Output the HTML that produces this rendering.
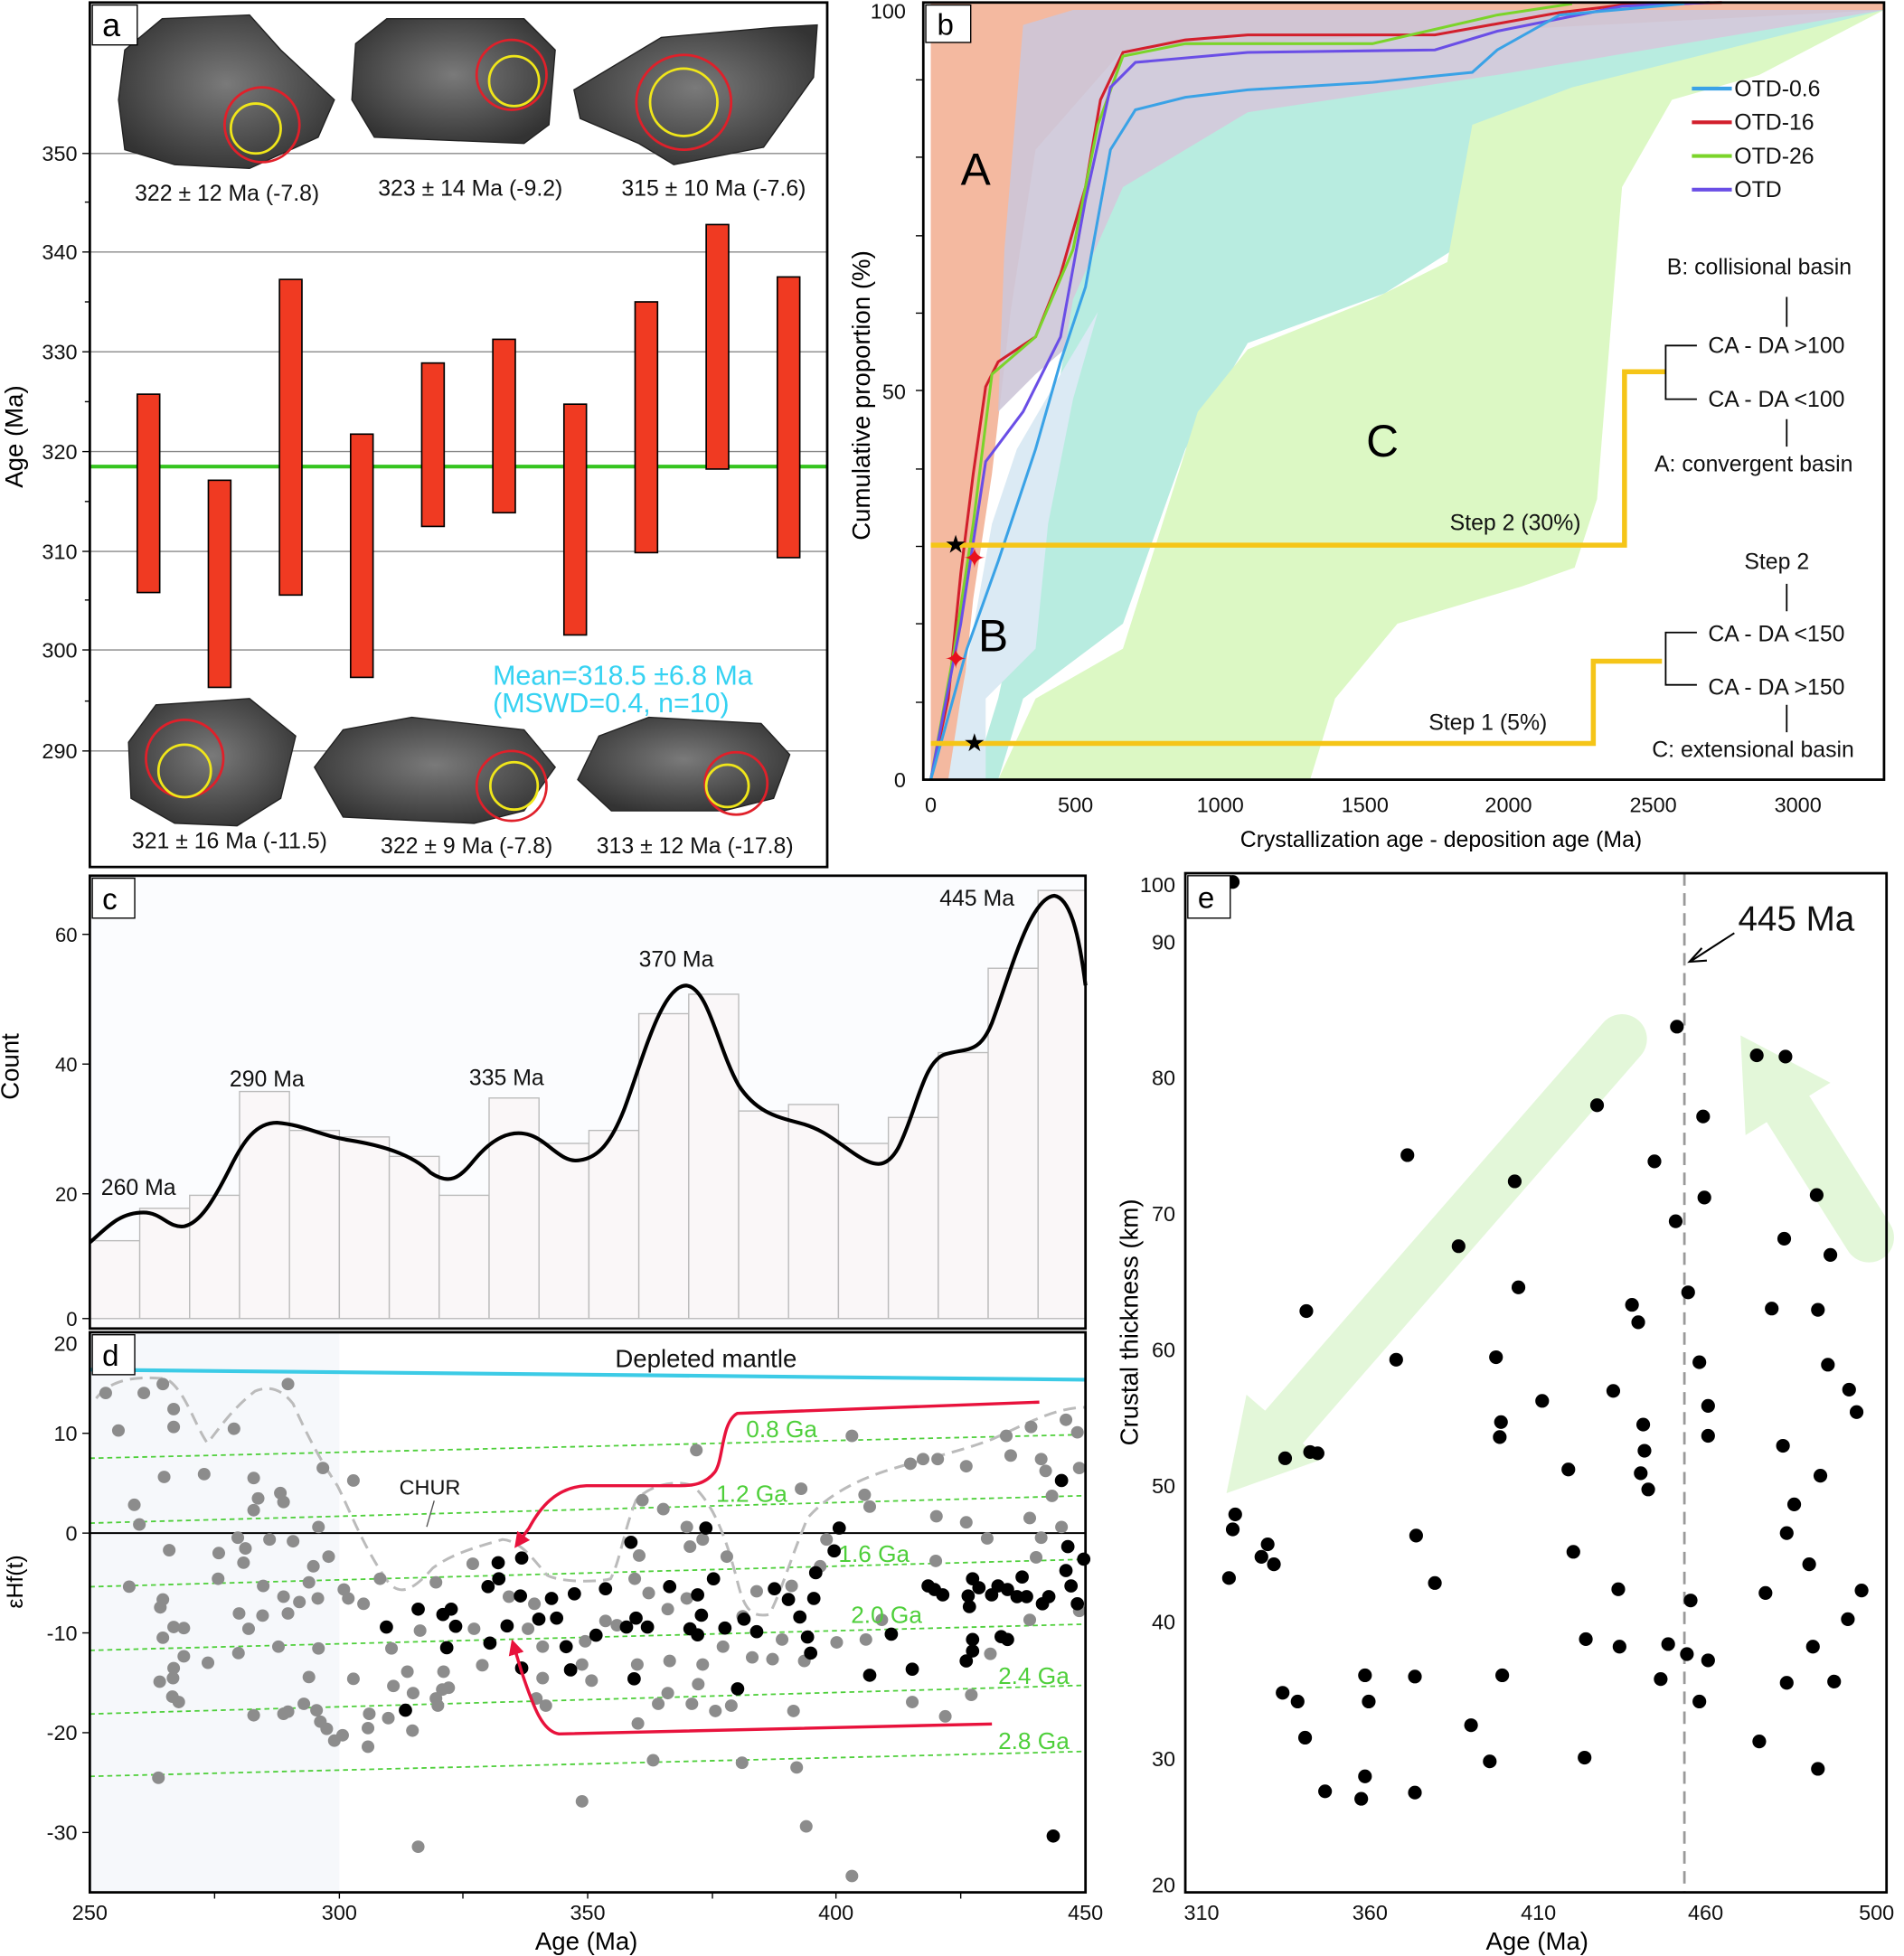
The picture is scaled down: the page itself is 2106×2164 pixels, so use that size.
<!DOCTYPE html>
<html><head><meta charset="utf-8"><style>
html,body{margin:0;padding:0;background:#fff}
svg{display:block}
text{font-family:"Liberation Sans",Arial,sans-serif}
</style></head><body>
<svg xmlns="http://www.w3.org/2000/svg" width="2106" height="2164" viewBox="0 0 1526 1568">
<defs>
<radialGradient id="zg" cx="50%" cy="45%" r="60%"><stop offset="0" stop-color="#7a7a7a"/><stop offset="1" stop-color="#333"/></radialGradient>
<marker id="ah" viewBox="0 0 10 10" refX="5" refY="5" markerWidth="5" markerHeight="5" orient="auto"><path d="M0,0L10,5L0,10z" fill="#e8123c"/></marker>
</defs>
<rect width="1526" height="1568" fill="#fff"/>

<!-- ===== Panel a ===== -->
<g>
<g stroke="#888" stroke-width="1">
<line x1="72" y1="123" x2="663" y2="123"/><line x1="72" y1="202" x2="663" y2="202"/><line x1="72" y1="282" x2="663" y2="282"/>
<line x1="72" y1="362" x2="663" y2="362"/><line x1="72" y1="442" x2="663" y2="442"/><line x1="72" y1="521" x2="663" y2="521"/><line x1="72" y1="602" x2="663" y2="602"/>
</g>
<line x1="72" y1="374" x2="663" y2="374" stroke="#35c41f" stroke-width="3"/>
<g fill="#f03a22" stroke="#000" stroke-width="1.2">
<rect x="110" y="316" width="18" height="159"/><rect x="167" y="385" width="18" height="166"/><rect x="224" y="224" width="18" height="253"/>
<rect x="281" y="348" width="18" height="195"/><rect x="338" y="291" width="18" height="131"/><rect x="395" y="272" width="18" height="139"/>
<rect x="452" y="324" width="18" height="185"/><rect x="509" y="242" width="18" height="201"/><rect x="566" y="180" width="18" height="196"/><rect x="623" y="222" width="18" height="225"/>
</g>
<g fill="url(#zg)" stroke="#222">
<polygon points="100,40 130,15 200,12 225,40 268,80 255,110 200,135 140,132 100,120 95,80"/>
<polygon points="285,35 310,15 420,15 445,40 440,100 420,115 300,110 282,80"/>
<polygon points="460,72 530,30 620,22 655,20 652,62 612,118 540,132 512,115 465,95"/>
<polygon points="103,595 125,565 200,560 237,590 225,640 190,662 140,660 105,640"/>
<polygon points="252,615 275,585 330,575 420,585 445,615 420,650 380,660 275,655"/>
<polygon points="463,625 480,590 520,575 610,580 633,605 620,640 580,650 490,650"/>
</g>
<g fill="none" stroke-width="2">
<circle cx="210" cy="100" r="30" stroke="#e0202a"/><circle cx="205" cy="103" r="20" stroke="#f0e61a"/>
<circle cx="410" cy="60" r="28" stroke="#e0202a"/><circle cx="412" cy="65" r="20" stroke="#f0e61a"/>
<circle cx="548" cy="82" r="38" stroke="#e0202a"/><circle cx="548" cy="82" r="27" stroke="#f0e61a"/>
<circle cx="148" cy="608" r="31" stroke="#e0202a"/><circle cx="148" cy="618" r="21" stroke="#f0e61a"/>
<circle cx="410" cy="630" r="28" stroke="#e0202a"/><circle cx="412" cy="630" r="19" stroke="#f0e61a"/>
<circle cx="590" cy="628" r="25" stroke="#e0202a"/><circle cx="583" cy="630" r="17" stroke="#f0e61a"/>
</g>
<g font-size="18" fill="#111" text-anchor="middle">
<text x="182" y="161">322 ± 12 Ma (-7.8)</text><text x="377" y="157">323 ± 14 Ma (-9.2)</text><text x="572" y="157">315 ± 10 Ma (-7.6)</text>
<text x="184" y="680">321 ± 16 Ma (-11.5)</text><text x="374" y="684">322 ± 9 Ma (-7.8)</text><text x="557" y="684">313 ± 12 Ma (-17.8)</text>
</g>
<text x="395" y="549" font-size="22" fill="#35d2f2">Mean=318.5 ±6.8 Ma</text>
<text x="395" y="571" font-size="22" fill="#35d2f2">(MSWD=0.4, n=10)</text>
<rect x="72" y="2" width="591" height="693" fill="none" stroke="#000" stroke-width="2"/>
<rect x="74" y="4" width="36" height="32" fill="#fff" stroke="#000"/><text x="82" y="29" font-size="26">a</text>
<g font-size="17" text-anchor="end" fill="#111">
<text x="62" y="129">350</text><text x="62" y="208">340</text><text x="62" y="288">330</text><text x="62" y="368">320</text><text x="62" y="448">310</text><text x="62" y="527">300</text><text x="62" y="608">290</text>
</g>
<g stroke="#000"><line x1="66" y1="123" x2="72" y2="123"/><line x1="66" y1="202" x2="72" y2="202"/><line x1="66" y1="282" x2="72" y2="282"/><line x1="66" y1="362" x2="72" y2="362"/><line x1="66" y1="442" x2="72" y2="442"/><line x1="66" y1="521" x2="72" y2="521"/><line x1="66" y1="602" x2="72" y2="602"/>
<line x1="68" y1="162" x2="72" y2="162"/><line x1="68" y1="242" x2="72" y2="242"/><line x1="68" y1="322" x2="72" y2="322"/><line x1="68" y1="402" x2="72" y2="402"/><line x1="68" y1="481" x2="72" y2="481"/><line x1="68" y1="562" x2="72" y2="562"/></g>
<text transform="translate(18,350) rotate(-90)" font-size="20" text-anchor="middle">Age (Ma)</text>
</g>

<!-- ===== Panel b ===== -->
<g>
<polygon points="746,2 1510,2 1510,8 900,40 830,120 810,250 795,380 780,480 765,625 746,625" fill="#f4b9a0"/>
<polygon points="820,20 860,8 1510,8 1300,60 1150,90 1000,170 900,240 830,300 800,330 805,200" fill="#cdc6d8" opacity="0.9"/>
<polygon points="780,625 800,560 830,420 860,240 900,150 1000,90 1200,60 1510,8 1300,80 1185,100 1165,200 1110,235 1000,275 950,360 900,500 820,560 800,625" fill="#b8ece0"/>
<polygon points="800,625 830,560 900,520 960,330 1000,280 1100,240 1160,210 1180,100 1260,70 1510,8 1410,60 1340,80 1300,150 1292,250 1280,400 1262,455 1220,470 1120,500 1070,560 1050,625" fill="#dcf8c4"/>
<polygon points="760,625 770,560 795,420 815,360 850,300 880,250 860,320 840,420 830,520 790,560 790,625" fill="#dbeaf4"/>
<g fill="none" stroke-width="2.2">
<path d="M746,625 L760,560 L770,460 L780,380 L790,310 L800,290 L830,270 L850,220 L870,150 L882,80 L900,42 L950,32 L1000,28 L1150,28 L1250,10 L1300,4 L1380,2" stroke="#d21f2c"/>
<path d="M746,625 L765,520 L780,420 L795,300 L830,270 L860,200 L880,100 L900,45 L950,35 L1100,35 L1200,12 L1260,3" stroke="#7bd42a"/>
<path d="M746,625 L770,500 L790,370 L820,330 L850,270 L870,160 L890,70 L910,50 L1000,42 L1150,40 L1200,25 L1300,5 L1370,2" stroke="#6a4ee6"/>
<path d="M746,625 L775,520 L800,450 L830,360 L850,290 L870,230 L890,120 L910,88 L950,78 L1000,72 L1100,66 L1180,58 L1200,40 L1250,12 L1350,3" stroke="#3aa2e6"/>
</g>
<g fill="none" stroke="#f5c518" stroke-width="4">
<polyline points="746,437 1302,437 1302,298 1335,298"/><polyline points="746,596 1277,596 1277,530 1332,530"/>
</g>
<g>
<text x="766" y="443" text-anchor="middle" font-size="20">★</text><text x="781" y="602" text-anchor="middle" font-size="20">★</text>
<text x="781" y="455" text-anchor="middle" font-size="22" fill="#e8101c">✦</text><text x="766" y="536" text-anchor="middle" font-size="22" fill="#e8101c">✦</text>
</g>
<g font-size="36" fill="#000"><text x="770" y="148">A</text><text x="784" y="522">B</text><text x="1095" y="366">C</text></g>
<g font-size="18" fill="#111">
<text x="1162" y="425">Step 2 (30%)</text><text x="1145" y="585">Step 1 (5%)</text>
<text x="1336" y="220">B: collisional basin</text><text x="1369" y="283">CA - DA &gt;100</text><text x="1369" y="326">CA - DA &lt;100</text>
<text x="1326" y="378">A: convergent basin</text><text x="1398" y="456">Step 2</text><text x="1369" y="514">CA - DA &lt;150</text>
<text x="1369" y="557">CA - DA &gt;150</text><text x="1324" y="607">C: extensional basin</text>
</g>
<g stroke="#000" stroke-width="1.3" fill="none">
<polyline points="1360,277 1335,277 1335,320 1360,320"/><polyline points="1360,507 1335,507 1335,549 1360,549"/>
<line x1="1432" y1="262" x2="1432" y2="238"/><line x1="1432" y1="336" x2="1432" y2="358"/><line x1="1432" y1="490" x2="1432" y2="468"/><line x1="1432" y1="565" x2="1432" y2="587"/>
</g>
<g font-size="18" fill="#111">
<line x1="1356" y1="71" x2="1388" y2="71" stroke="#3aa2e6" stroke-width="3"/><text x="1390" y="77">OTD-0.6</text>
<line x1="1356" y1="98" x2="1388" y2="98" stroke="#d21f2c" stroke-width="3"/><text x="1390" y="104">OTD-16</text>
<line x1="1356" y1="125" x2="1388" y2="125" stroke="#7bd42a" stroke-width="3"/><text x="1390" y="131">OTD-26</text>
<line x1="1356" y1="152" x2="1388" y2="152" stroke="#6a4ee6" stroke-width="3"/><text x="1390" y="158">OTD</text>
</g>
<rect x="740" y="2" width="770" height="623" fill="none" stroke="#000" stroke-width="2"/>
<rect x="742" y="4" width="36" height="30" fill="#fff" stroke="#000"/><text x="751" y="28" font-size="24">b</text>
<g font-size="17" fill="#111" text-anchor="end"><text x="726" y="15">100</text><text x="726" y="320">50</text><text x="726" y="631">0</text></g>
<g stroke="#000"><line x1="734" y1="64" x2="740" y2="64"/><line x1="734" y1="126" x2="740" y2="126"/><line x1="734" y1="189" x2="740" y2="189"/><line x1="734" y1="251" x2="740" y2="251"/><line x1="734" y1="313" x2="740" y2="313"/><line x1="734" y1="376" x2="740" y2="376"/><line x1="734" y1="438" x2="740" y2="438"/><line x1="734" y1="500" x2="740" y2="500"/><line x1="734" y1="563" x2="740" y2="563"/></g>
<g font-size="17" fill="#111" text-anchor="middle"><text x="746" y="651">0</text><text x="862" y="651">500</text><text x="978" y="651">1000</text><text x="1094" y="651">1500</text><text x="1209" y="651">2000</text><text x="1325" y="651">2500</text><text x="1441" y="651">3000</text></g>
<text x="1155" y="679" font-size="18" text-anchor="middle">Crystallization age - deposition age (Ma)</text>
<text transform="translate(697,317) rotate(-90)" font-size="20" text-anchor="middle">Cumulative proportion (%)</text>
</g>

<!-- ===== Panel c ===== -->
<g>
<rect x="72" y="702" width="798" height="363" fill="#fbfcfe"/>
<g fill="#faf7f8" stroke="#bbb" stroke-width="1">
<rect x="72" y="994.6" width="40" height="62.4"/><rect x="112" y="968.6" width="40" height="88.4"/><rect x="152" y="958.2" width="40" height="98.8"/>
<rect x="192" y="875" width="40" height="182"/><rect x="232" y="906.2" width="40" height="150.8"/><rect x="272" y="911.4" width="40" height="145.6"/>
<rect x="312" y="927" width="40" height="130"/><rect x="352" y="958.2" width="40" height="98.8"/><rect x="392" y="880.2" width="40" height="176.8"/>
<rect x="432" y="916.6" width="40" height="140.4"/><rect x="472" y="906.2" width="40" height="150.8"/><rect x="512" y="812.6" width="40" height="244.4"/>
<rect x="552" y="797" width="40" height="260"/><rect x="592" y="890.6" width="40" height="166.4"/><rect x="632" y="885.4" width="40" height="171.6"/>
<rect x="672" y="916.6" width="40" height="140.4"/><rect x="712" y="895.8" width="40" height="161.2"/><rect x="752" y="843.8" width="40" height="213.2"/>
<rect x="792" y="776.2" width="40" height="280.8"/><rect x="832" y="713.8" width="38" height="343.2"/>
</g>
<path d="M72,996 C85,985 95,972 115,972 C130,972 135,985 148,983 C160,980 170,965 185,935 C195,915 205,900 222,900 C245,902 255,910 280,914 C305,918 330,925 345,940 C360,950 368,945 380,930 C395,912 410,905 425,910 C440,915 450,933 465,930 C480,928 490,915 500,890 C515,850 530,790 550,790 C568,792 575,840 592,870 C605,890 620,895 640,900 C660,905 670,915 685,925 C700,935 710,938 720,920 C735,890 740,850 758,845 C775,840 785,845 795,820 C810,780 825,720 845,718 C858,720 865,750 870,790" fill="none" stroke="#000" stroke-width="3"/>
<g font-size="18" fill="#111"><text x="81" y="958">260 Ma</text><text x="184" y="871">290 Ma</text><text x="376" y="870">335 Ma</text><text x="512" y="775">370 Ma</text><text x="753" y="726">445 Ma</text></g>
<rect x="72" y="702" width="798" height="363" fill="none" stroke="#000" stroke-width="2"/>
<rect x="74" y="704" width="34" height="32" fill="#fff" stroke="#000"/><text x="82" y="729" font-size="24">c</text>
<g font-size="16" fill="#111" text-anchor="end"><text x="62" y="755">60</text><text x="62" y="859">40</text><text x="62" y="963">20</text><text x="62" y="1063">0</text></g>
<g stroke="#000"><line x1="66" y1="749" x2="72" y2="749"/><line x1="66" y1="853" x2="72" y2="853"/><line x1="66" y1="957" x2="72" y2="957"/><line x1="66" y1="1057" x2="72" y2="1057"/></g>
<text transform="translate(15,855) rotate(-90)" font-size="20" text-anchor="middle">Count</text>
</g>

<!-- ===== Panel d ===== -->
<g>
<rect x="72" y="1068" width="798" height="449" fill="#fff"/>
<rect x="72" y="1068" width="200" height="449" fill="#f6f8fb"/>
<line x1="72" y1="1098" x2="870" y2="1106" stroke="#3ccbe6" stroke-width="3"/>
<g stroke="#4ecf3a" stroke-width="1.3" stroke-dasharray="4,3">
<line x1="72" y1="1169" x2="870" y2="1150"/><line x1="72" y1="1221" x2="870" y2="1199"/><line x1="72" y1="1272" x2="870" y2="1250"/>
<line x1="72" y1="1323" x2="870" y2="1302"/><line x1="72" y1="1374" x2="870" y2="1351"/><line x1="72" y1="1424" x2="870" y2="1404"/>
</g>
<line x1="72" y1="1229" x2="870" y2="1229" stroke="#000" stroke-width="1.5"/>
<g transform="translate(72,1068) scale(0.509,0.2864)">
<path d="M10,185 C30,140 60,120 120,130 C150,160 165,260 185,310 C200,280 220,220 260,165 C280,150 300,155 320,200 C340,280 360,350 390,430 C410,500 430,600 470,700 C490,740 510,720 540,660 C570,620 610,600 650,580 C680,585 700,640 720,680 C740,700 800,700 820,690 C835,640 840,560 860,470 C880,430 920,410 950,430 C980,480 1000,560 1020,700 C1030,770 1040,800 1070,790 C1090,720 1100,650 1130,520 C1160,460 1200,420 1250,390 C1300,360 1360,340 1420,300 C1470,260 1520,210 1568,210" fill="none" stroke="#bbb" stroke-width="3" stroke-dasharray="14,8" vector-effect="non-scaling-stroke"/>
<g fill="#8c8c8c">
<ellipse cx="25" cy="170" rx="10" ry="17.5"/><ellipse cx="85" cy="170" rx="10" ry="17.5"/><ellipse cx="115" cy="145" rx="10" ry="17.5"/><ellipse cx="312" cy="145" rx="10" ry="17.5"/><ellipse cx="132" cy="215" rx="10" ry="17.5"/><ellipse cx="45" cy="275" rx="10" ry="17.5"/><ellipse cx="132" cy="265" rx="10" ry="17.5"/><ellipse cx="227" cy="270" rx="10" ry="17.5"/><ellipse cx="180" cy="397" rx="10" ry="17.5"/><ellipse cx="117" cy="405" rx="10" ry="17.5"/><ellipse cx="258" cy="408" rx="10" ry="17.5"/><ellipse cx="367" cy="380" rx="10" ry="17.5"/><ellipse cx="415" cy="415" rx="10" ry="17.5"/><ellipse cx="70" cy="483" rx="10" ry="17.5"/><ellipse cx="265" cy="465" rx="10" ry="17.5"/><ellipse cx="300" cy="450" rx="10" ry="17.5"/><ellipse cx="305" cy="475" rx="10" ry="17.5"/><ellipse cx="258" cy="498" rx="10" ry="17.5"/><ellipse cx="78" cy="538" rx="10" ry="17.5"/><ellipse cx="360" cy="545" rx="10" ry="17.5"/><ellipse cx="233" cy="575" rx="10" ry="17.5"/><ellipse cx="283" cy="580" rx="10" ry="17.5"/><ellipse cx="320" cy="585" rx="10" ry="17.5"/><ellipse cx="245" cy="605" rx="10" ry="17.5"/><ellipse cx="125" cy="610" rx="10" ry="17.5"/><ellipse cx="203" cy="618" rx="10" ry="17.5"/><ellipse cx="376" cy="628" rx="10" ry="17.5"/><ellipse cx="242" cy="645" rx="10" ry="17.5"/><ellipse cx="352" cy="655" rx="10" ry="17.5"/><ellipse cx="457" cy="690" rx="10" ry="17.5"/><ellipse cx="545" cy="700" rx="10" ry="17.5"/><ellipse cx="603" cy="648" rx="10" ry="17.5"/><ellipse cx="202" cy="690" rx="10" ry="17.5"/><ellipse cx="62" cy="712" rx="10" ry="17.5"/><ellipse cx="273" cy="710" rx="10" ry="17.5"/><ellipse cx="345" cy="700" rx="10" ry="17.5"/><ellipse cx="305" cy="740" rx="10" ry="17.5"/><ellipse cx="330" cy="755" rx="10" ry="17.5"/><ellipse cx="400" cy="720" rx="10" ry="17.5"/><ellipse cx="407" cy="745" rx="10" ry="17.5"/><ellipse cx="359" cy="745" rx="10" ry="17.5"/><ellipse cx="431" cy="760" rx="10" ry="17.5"/><ellipse cx="115" cy="748" rx="10" ry="17.5"/><ellipse cx="111" cy="770" rx="10" ry="17.5"/><ellipse cx="235" cy="787" rx="10" ry="17.5"/><ellipse cx="272" cy="793" rx="10" ry="17.5"/><ellipse cx="312" cy="787" rx="10" ry="17.5"/><ellipse cx="132" cy="825" rx="10" ry="17.5"/><ellipse cx="148" cy="828" rx="10" ry="17.5"/><ellipse cx="250" cy="830" rx="10" ry="17.5"/><ellipse cx="115" cy="855" rx="10" ry="17.5"/><ellipse cx="297" cy="880" rx="10" ry="17.5"/><ellipse cx="360" cy="885" rx="10" ry="17.5"/><ellipse cx="234" cy="898" rx="10" ry="17.5"/><ellipse cx="148" cy="907" rx="10" ry="17.5"/><ellipse cx="186" cy="925" rx="10" ry="17.5"/><ellipse cx="132" cy="940" rx="10" ry="17.5"/><ellipse cx="110" cy="978" rx="10" ry="17.5"/><ellipse cx="131" cy="968" rx="10" ry="17.5"/><ellipse cx="130" cy="1020" rx="10" ry="17.5"/><ellipse cx="140" cy="1035" rx="10" ry="17.5"/><ellipse cx="345" cy="965" rx="10" ry="17.5"/><ellipse cx="415" cy="970" rx="10" ry="17.5"/><ellipse cx="258" cy="1072" rx="10" ry="17.5"/><ellipse cx="305" cy="1068" rx="10" ry="17.5"/><ellipse cx="312" cy="1062" rx="10" ry="17.5"/><ellipse cx="337" cy="1040" rx="10" ry="17.5"/><ellipse cx="357" cy="1058" rx="10" ry="17.5"/><ellipse cx="363" cy="1090" rx="10" ry="17.5"/><ellipse cx="373" cy="1110" rx="10" ry="17.5"/><ellipse cx="385" cy="1143" rx="10" ry="17.5"/><ellipse cx="398" cy="1128" rx="10" ry="17.5"/><ellipse cx="438" cy="1108" rx="10" ry="17.5"/><ellipse cx="438" cy="1160" rx="10" ry="17.5"/><ellipse cx="440" cy="1068" rx="10" ry="17.5"/><ellipse cx="470" cy="1080" rx="10" ry="17.5"/><ellipse cx="508" cy="1115" rx="10" ry="17.5"/><ellipse cx="478" cy="990" rx="10" ry="17.5"/><ellipse cx="500" cy="950" rx="10" ry="17.5"/><ellipse cx="509" cy="1010" rx="10" ry="17.5"/><ellipse cx="545" cy="1025" rx="10" ry="17.5"/><ellipse cx="555" cy="1000" rx="10" ry="17.5"/><ellipse cx="548" cy="1045" rx="10" ry="17.5"/><ellipse cx="565" cy="995" rx="10" ry="17.5"/><ellipse cx="557" cy="950" rx="10" ry="17.5"/><ellipse cx="475" cy="885" rx="10" ry="17.5"/><ellipse cx="520" cy="835" rx="10" ry="17.5"/><ellipse cx="605" cy="830" rx="10" ry="17.5"/><ellipse cx="618" cy="932" rx="10" ry="17.5"/><ellipse cx="703" cy="1025" rx="10" ry="17.5"/><ellipse cx="718" cy="1045" rx="10" ry="17.5"/><ellipse cx="713" cy="968" rx="10" ry="17.5"/><ellipse cx="713" cy="880" rx="10" ry="17.5"/><ellipse cx="690" cy="830" rx="10" ry="17.5"/><ellipse cx="660" cy="740" rx="10" ry="17.5"/><ellipse cx="700" cy="760" rx="10" ry="17.5"/><ellipse cx="775" cy="930" rx="10" ry="17.5"/><ellipse cx="790" cy="975" rx="10" ry="17.5"/><ellipse cx="780" cy="865" rx="10" ry="17.5"/><ellipse cx="812" cy="808" rx="10" ry="17.5"/><ellipse cx="830" cy="820" rx="10" ry="17.5"/><ellipse cx="862" cy="930" rx="10" ry="17.5"/><ellipse cx="913" cy="920" rx="10" ry="17.5"/><ellipse cx="910" cy="1010" rx="10" ry="17.5"/><ellipse cx="948" cy="1040" rx="10" ry="17.5"/><ellipse cx="958" cy="985" rx="10" ry="17.5"/><ellipse cx="965" cy="930" rx="10" ry="17.5"/><ellipse cx="985" cy="1060" rx="10" ry="17.5"/><ellipse cx="1010" cy="1045" rx="10" ry="17.5"/><ellipse cx="895" cy="1040" rx="10" ry="17.5"/><ellipse cx="863" cy="1095" rx="10" ry="17.5"/><ellipse cx="887" cy="1198" rx="10" ry="17.5"/><ellipse cx="1027" cy="1205" rx="10" ry="17.5"/><ellipse cx="1113" cy="1218" rx="10" ry="17.5"/><ellipse cx="1108" cy="1060" rx="10" ry="17.5"/><ellipse cx="997" cy="880" rx="10" ry="17.5"/><ellipse cx="1043" cy="910" rx="10" ry="17.5"/><ellipse cx="1075" cy="915" rx="10" ry="17.5"/><ellipse cx="1090" cy="860" rx="10" ry="17.5"/><ellipse cx="1176" cy="868" rx="10" ry="17.5"/><ellipse cx="1222" cy="860" rx="10" ry="17.5"/><ellipse cx="1247" cy="805" rx="10" ry="17.5"/><ellipse cx="1295" cy="1035" rx="10" ry="17.5"/><ellipse cx="1347" cy="1075" rx="10" ry="17.5"/><ellipse cx="1388" cy="1015" rx="10" ry="17.5"/><ellipse cx="1418" cy="900" rx="10" ry="17.5"/><ellipse cx="1480" cy="805" rx="10" ry="17.5"/><ellipse cx="1558" cy="780" rx="10" ry="17.5"/><ellipse cx="870" cy="470" rx="10" ry="17.5"/><ellipse cx="903" cy="495" rx="10" ry="17.5"/><ellipse cx="955" cy="330" rx="10" ry="17.5"/><ellipse cx="1200" cy="290" rx="10" ry="17.5"/><ellipse cx="1120" cy="438" rx="10" ry="17.5"/><ellipse cx="1220" cy="455" rx="10" ry="17.5"/><ellipse cx="1228" cy="488" rx="10" ry="17.5"/><ellipse cx="1292" cy="368" rx="10" ry="17.5"/><ellipse cx="1312" cy="355" rx="10" ry="17.5"/><ellipse cx="1335" cy="355" rx="10" ry="17.5"/><ellipse cx="1380" cy="375" rx="10" ry="17.5"/><ellipse cx="1333" cy="515" rx="10" ry="17.5"/><ellipse cx="1380" cy="532" rx="10" ry="17.5"/><ellipse cx="1482" cy="265" rx="10" ry="17.5"/><ellipse cx="1443" cy="290" rx="10" ry="17.5"/><ellipse cx="1450" cy="345" rx="10" ry="17.5"/><ellipse cx="1498" cy="355" rx="10" ry="17.5"/><ellipse cx="1505" cy="388" rx="10" ry="17.5"/><ellipse cx="1480" cy="520" rx="10" ry="17.5"/><ellipse cx="1537" cy="245" rx="10" ry="17.5"/><ellipse cx="1555" cy="280" rx="10" ry="17.5"/><ellipse cx="1558" cy="380" rx="10" ry="17.5"/><ellipse cx="1515" cy="458" rx="10" ry="17.5"/><ellipse cx="1530" cy="545" rx="10" ry="17.5"/><ellipse cx="1498" cy="575" rx="10" ry="17.5"/><ellipse cx="1413" cy="577" rx="10" ry="17.5"/><ellipse cx="1332" cy="640" rx="10" ry="17.5"/><ellipse cx="1490" cy="630" rx="10" ry="17.5"/><ellipse cx="1160" cy="580" rx="10" ry="17.5"/><ellipse cx="940" cy="545" rx="10" ry="17.5"/><ellipse cx="945" cy="600" rx="10" ry="17.5"/><ellipse cx="965" cy="580" rx="10" ry="17.5"/><ellipse cx="1003" cy="628" rx="10" ry="17.5"/><ellipse cx="865" cy="625" rx="10" ry="17.5"/><ellipse cx="858" cy="690" rx="10" ry="17.5"/><ellipse cx="880" cy="730" rx="10" ry="17.5"/><ellipse cx="910" cy="775" rx="10" ry="17.5"/><ellipse cx="940" cy="745" rx="10" ry="17.5"/><ellipse cx="1105" cy="710" rx="10" ry="17.5"/><ellipse cx="1050" cy="725" rx="10" ry="17.5"/><ellipse cx="1028" cy="795" rx="10" ry="17.5"/><ellipse cx="1150" cy="655" rx="10" ry="17.5"/><ellipse cx="1125" cy="920" rx="10" ry="17.5"/><ellipse cx="775" cy="1313" rx="10" ry="17.5"/><ellipse cx="1128" cy="1383" rx="10" ry="17.5"/><ellipse cx="1200" cy="1522" rx="10" ry="17.5"/><ellipse cx="517" cy="1440" rx="10" ry="17.5"/><ellipse cx="108" cy="1247" rx="10" ry="17.5"/>
</g>
<g fill="#000">
<ellipse cx="970" cy="548" rx="10.5" ry="18.5"/><ellipse cx="1180" cy="548" rx="10.5" ry="18.5"/><ellipse cx="852" cy="588" rx="10.5" ry="18.5"/><ellipse cx="1172" cy="612" rx="10.5" ry="18.5"/><ellipse cx="1540" cy="600" rx="10.5" ry="18.5"/><ellipse cx="1565" cy="635" rx="10.5" ry="18.5"/><ellipse cx="643" cy="645" rx="10.5" ry="18.5"/><ellipse cx="680" cy="632" rx="10.5" ry="18.5"/><ellipse cx="1537" cy="667" rx="10.5" ry="18.5"/><ellipse cx="1143" cy="673" rx="10.5" ry="18.5"/><ellipse cx="982" cy="690" rx="10.5" ry="18.5"/><ellipse cx="644" cy="690" rx="10.5" ry="18.5"/><ellipse cx="627" cy="712" rx="10.5" ry="18.5"/><ellipse cx="812" cy="718" rx="10.5" ry="18.5"/><ellipse cx="763" cy="732" rx="10.5" ry="18.5"/><ellipse cx="913" cy="712" rx="10.5" ry="18.5"/><ellipse cx="957" cy="735" rx="10.5" ry="18.5"/><ellipse cx="1078" cy="718" rx="10.5" ry="18.5"/><ellipse cx="1320" cy="710" rx="10.5" ry="18.5"/><ellipse cx="1343" cy="735" rx="10.5" ry="18.5"/><ellipse cx="1390" cy="690" rx="10.5" ry="18.5"/><ellipse cx="1420" cy="735" rx="10.5" ry="18.5"/><ellipse cx="1445" cy="720" rx="10.5" ry="18.5"/><ellipse cx="1468" cy="685" rx="10.5" ry="18.5"/><ellipse cx="1475" cy="740" rx="10.5" ry="18.5"/><ellipse cx="1500" cy="760" rx="10.5" ry="18.5"/><ellipse cx="1545" cy="710" rx="10.5" ry="18.5"/><ellipse cx="1555" cy="760" rx="10.5" ry="18.5"/><ellipse cx="678" cy="738" rx="10.5" ry="18.5"/><ellipse cx="727" cy="745" rx="10.5" ry="18.5"/><ellipse cx="1100" cy="748" rx="10.5" ry="18.5"/><ellipse cx="1140" cy="745" rx="10.5" ry="18.5"/><ellipse cx="1383" cy="738" rx="10.5" ry="18.5"/><ellipse cx="1385" cy="768" rx="10.5" ry="18.5"/><ellipse cx="1460" cy="740" rx="10.5" ry="18.5"/><ellipse cx="1510" cy="740" rx="10.5" ry="18.5"/><ellipse cx="1330" cy="720" rx="10.5" ry="18.5"/><ellipse cx="1400" cy="715" rx="10.5" ry="18.5"/><ellipse cx="1430" cy="710" rx="10.5" ry="18.5"/><ellipse cx="517" cy="775" rx="10.5" ry="18.5"/><ellipse cx="556" cy="790" rx="10.5" ry="18.5"/><ellipse cx="569" cy="775" rx="10.5" ry="18.5"/><ellipse cx="576" cy="823" rx="10.5" ry="18.5"/><ellipse cx="467" cy="825" rx="10.5" ry="18.5"/><ellipse cx="657" cy="822" rx="10.5" ry="18.5"/><ellipse cx="707" cy="803" rx="10.5" ry="18.5"/><ellipse cx="735" cy="800" rx="10.5" ry="18.5"/><ellipse cx="860" cy="800" rx="10.5" ry="18.5"/><ellipse cx="845" cy="825" rx="10.5" ry="18.5"/><ellipse cx="878" cy="825" rx="10.5" ry="18.5"/><ellipse cx="963" cy="792" rx="10.5" ry="18.5"/><ellipse cx="945" cy="830" rx="10.5" ry="18.5"/><ellipse cx="957" cy="847" rx="10.5" ry="18.5"/><ellipse cx="1000" cy="828" rx="10.5" ry="18.5"/><ellipse cx="1030" cy="803" rx="10.5" ry="18.5"/><ellipse cx="1050" cy="838" rx="10.5" ry="18.5"/><ellipse cx="1118" cy="797" rx="10.5" ry="18.5"/><ellipse cx="1130" cy="853" rx="10.5" ry="18.5"/><ellipse cx="1262" cy="845" rx="10.5" ry="18.5"/><ellipse cx="1390" cy="860" rx="10.5" ry="18.5"/><ellipse cx="1435" cy="852" rx="10.5" ry="18.5"/><ellipse cx="1445" cy="860" rx="10.5" ry="18.5"/><ellipse cx="797" cy="848" rx="10.5" ry="18.5"/><ellipse cx="562" cy="883" rx="10.5" ry="18.5"/><ellipse cx="630" cy="870" rx="10.5" ry="18.5"/><ellipse cx="750" cy="880" rx="10.5" ry="18.5"/><ellipse cx="1135" cy="898" rx="10.5" ry="18.5"/><ellipse cx="1390" cy="892" rx="10.5" ry="18.5"/><ellipse cx="1380" cy="920" rx="10.5" ry="18.5"/><ellipse cx="680" cy="940" rx="10.5" ry="18.5"/><ellipse cx="757" cy="945" rx="10.5" ry="18.5"/><ellipse cx="857" cy="970" rx="10.5" ry="18.5"/><ellipse cx="1228" cy="960" rx="10.5" ry="18.5"/><ellipse cx="1295" cy="943" rx="10.5" ry="18.5"/><ellipse cx="1020" cy="998" rx="10.5" ry="18.5"/><ellipse cx="497" cy="1058" rx="10.5" ry="18.5"/><ellipse cx="1517" cy="1410" rx="10.5" ry="18.5"/><ellipse cx="1530" cy="415" rx="10.5" ry="18.5"/>
</g>
</g>
<path d="M833,1124 L591,1133 C578,1140 580,1170 573,1180 C565,1190 555,1191 545,1191 L470,1191 C445,1192 432,1210 424,1225 L416,1236" fill="none" stroke="#e8123c" stroke-width="2.5" marker-end="url(#ah)"/>
<path d="M795,1382 L448,1390 C435,1388 428,1370 418,1340 L412,1320" fill="none" stroke="#e8123c" stroke-width="2.5" marker-end="url(#ah)"/>
<g font-size="19" fill="#4ecf3a"><text x="598" y="1152">0.8 Ga</text><text x="574" y="1204">1.2 Ga</text><text x="672" y="1252">1.6 Ga</text><text x="682" y="1301">2.0 Ga</text><text x="800" y="1350">2.4 Ga</text><text x="800" y="1402">2.8 Ga</text></g>
<text x="493" y="1096" font-size="20" fill="#111">Depleted mantle</text>
<text x="320" y="1198" font-size="17" fill="#111">CHUR</text>
<line x1="348" y1="1203" x2="342" y2="1224" stroke="#555"/>
<rect x="72" y="1068" width="798" height="449" fill="none" stroke="#000" stroke-width="2"/>
<rect x="74" y="1070" width="34" height="32" fill="#fff" stroke="#000"/><text x="82" y="1095" font-size="24">d</text>
<g font-size="17" fill="#111" text-anchor="end"><text x="62" y="1083">20</text><text x="62" y="1155">10</text><text x="62" y="1235">0</text><text x="62" y="1315">-10</text><text x="62" y="1395">-20</text><text x="62" y="1475">-30</text></g>
<g stroke="#000"><line x1="66" y1="1149" x2="72" y2="1149"/><line x1="66" y1="1229" x2="72" y2="1229"/><line x1="66" y1="1309" x2="72" y2="1309"/><line x1="66" y1="1389" x2="72" y2="1389"/><line x1="66" y1="1469" x2="72" y2="1469"/></g>
<text transform="translate(18,1268) rotate(-90)" font-size="18" text-anchor="middle">εHf(t)</text>
<g font-size="17" fill="#111" text-anchor="middle"><text x="72" y="1539">250</text><text x="272" y="1539">300</text><text x="471" y="1539">350</text><text x="670" y="1539">400</text><text x="870" y="1539">450</text></g>
<g stroke="#000"><line x1="172" y1="1517" x2="172" y2="1522"/><line x1="272" y1="1517" x2="272" y2="1522"/><line x1="371" y1="1517" x2="371" y2="1522"/><line x1="471" y1="1517" x2="471" y2="1522"/><line x1="571" y1="1517" x2="571" y2="1522"/><line x1="670" y1="1517" x2="670" y2="1522"/><line x1="770" y1="1517" x2="770" y2="1522"/></g>
<text x="470" y="1563" font-size="20" text-anchor="middle">Age (Ma)</text>
</g>

<!-- ===== Panel e ===== -->
<g>
<g stroke="#e3f7d9" stroke-width="40" stroke-linecap="round">
<line x1="1300" y1="833" x2="1029" y2="1144"/>
<line x1="1498" y1="992" x2="1433" y2="889"/>
</g>
<polygon points="983,1197 1059,1170 999,1118" fill="#e3f7d9"/>
<polygon points="1395,830 1467,868 1399,910" fill="#e3f7d9"/>
<line x1="1350" y1="700" x2="1350" y2="1517" stroke="#999" stroke-width="2" stroke-dasharray="10,6"/>
<line x1="1390" y1="748" x2="1356" y2="770" stroke="#000" stroke-width="1.5"/>
<polyline points="1364,760 1354,771 1368,770" fill="none" stroke="#000" stroke-width="1.5"/>
<text x="1393" y="746" font-size="28" fill="#111">445 Ma</text>
<g fill="#000">
<circle cx="988" cy="707" r="5.5"/><circle cx="1344" cy="823" r="5.5"/><circle cx="1408" cy="846" r="5.5"/><circle cx="1431" cy="847" r="5.5"/><circle cx="1365" cy="895" r="5.5"/><circle cx="1280" cy="886" r="5.5"/><circle cx="1128" cy="926" r="5.5"/><circle cx="1214" cy="947" r="5.5"/><circle cx="1326" cy="931" r="5.5"/><circle cx="1366" cy="960" r="5.5"/><circle cx="1456" cy="958" r="5.5"/><circle cx="1343" cy="979" r="5.5"/><circle cx="1430" cy="993" r="5.5"/><circle cx="1467" cy="1006" r="5.5"/><circle cx="1169" cy="999" r="5.5"/><circle cx="1217" cy="1032" r="5.5"/><circle cx="1353" cy="1036" r="5.5"/><circle cx="1047" cy="1051" r="5.5"/><circle cx="1308" cy="1046" r="5.5"/><circle cx="1313" cy="1060" r="5.5"/><circle cx="1420" cy="1049" r="5.5"/><circle cx="1457" cy="1050" r="5.5"/><circle cx="1119" cy="1090" r="5.5"/><circle cx="1199" cy="1088" r="5.5"/><circle cx="1362" cy="1092" r="5.5"/><circle cx="1465" cy="1094" r="5.5"/><circle cx="1236" cy="1123" r="5.5"/><circle cx="1293" cy="1115" r="5.5"/><circle cx="1482" cy="1114" r="5.5"/><circle cx="1203" cy="1140" r="5.5"/><circle cx="1317" cy="1142" r="5.5"/><circle cx="1369" cy="1127" r="5.5"/><circle cx="1202" cy="1152" r="5.5"/><circle cx="1488" cy="1132" r="5.5"/><circle cx="1369" cy="1151" r="5.5"/><circle cx="1318" cy="1163" r="5.5"/><circle cx="1429" cy="1159" r="5.5"/><circle cx="1030" cy="1169" r="5.5"/><circle cx="1050" cy="1164" r="5.5"/><circle cx="1056" cy="1165" r="5.5"/><circle cx="1257" cy="1178" r="5.5"/><circle cx="1315" cy="1181" r="5.5"/><circle cx="1459" cy="1183" r="5.5"/><circle cx="1321" cy="1194" r="5.5"/><circle cx="1438" cy="1206" r="5.5"/><circle cx="990" cy="1214" r="5.5"/><circle cx="988" cy="1226" r="5.5"/><circle cx="1016" cy="1238" r="5.5"/><circle cx="1011" cy="1248" r="5.5"/><circle cx="1021" cy="1254" r="5.5"/><circle cx="1135" cy="1231" r="5.5"/><circle cx="1432" cy="1229" r="5.5"/><circle cx="1261" cy="1244" r="5.5"/><circle cx="1450" cy="1254" r="5.5"/><circle cx="985" cy="1265" r="5.5"/><circle cx="1150" cy="1269" r="5.5"/><circle cx="1297" cy="1274" r="5.5"/><circle cx="1415" cy="1277" r="5.5"/><circle cx="1492" cy="1275" r="5.5"/><circle cx="1355" cy="1283" r="5.5"/><circle cx="1481" cy="1298" r="5.5"/><circle cx="1271" cy="1314" r="5.5"/><circle cx="1298" cy="1320" r="5.5"/><circle cx="1337" cy="1318" r="5.5"/><circle cx="1352" cy="1326" r="5.5"/><circle cx="1453" cy="1320" r="5.5"/><circle cx="1369" cy="1331" r="5.5"/><circle cx="1094" cy="1343" r="5.5"/><circle cx="1134" cy="1344" r="5.5"/><circle cx="1204" cy="1343" r="5.5"/><circle cx="1331" cy="1346" r="5.5"/><circle cx="1470" cy="1348" r="5.5"/><circle cx="1432" cy="1349" r="5.5"/><circle cx="1028" cy="1357" r="5.5"/><circle cx="1040" cy="1364" r="5.5"/><circle cx="1097" cy="1364" r="5.5"/><circle cx="1362" cy="1364" r="5.5"/><circle cx="1179" cy="1383" r="5.5"/><circle cx="1046" cy="1393" r="5.5"/><circle cx="1410" cy="1396" r="5.5"/><circle cx="1194" cy="1412" r="5.5"/><circle cx="1270" cy="1409" r="5.5"/><circle cx="1457" cy="1418" r="5.5"/><circle cx="1094" cy="1424" r="5.5"/><circle cx="1062" cy="1436" r="5.5"/><circle cx="1091" cy="1442" r="5.5"/><circle cx="1134" cy="1437" r="5.5"/>
</g>
<rect x="950" y="700" width="562" height="817" fill="none" stroke="#000" stroke-width="2"/>
<rect x="952" y="702" width="34" height="34" fill="#fff" stroke="#000"/><text x="960" y="728" font-size="24">e</text>
<g font-size="17" fill="#111" text-anchor="end"><text x="942" y="715">100</text><text x="942" y="761">90</text><text x="942" y="870">80</text><text x="942" y="979">70</text><text x="942" y="1088">60</text><text x="942" y="1197">50</text><text x="942" y="1306">40</text><text x="942" y="1416">30</text><text x="942" y="1517">20</text></g>
<g font-size="17" fill="#111" text-anchor="middle"><text x="963" y="1539">310</text><text x="1098" y="1539">360</text><text x="1233" y="1539">410</text><text x="1367" y="1539">460</text><text x="1504" y="1539">500</text></g>
<text x="1232" y="1563" font-size="20" text-anchor="middle">Age (Ma)</text>
<text transform="translate(912,1060) rotate(-90)" font-size="20" text-anchor="middle">Crustal thickness (km)</text>
</g>
</svg>
</body></html>
